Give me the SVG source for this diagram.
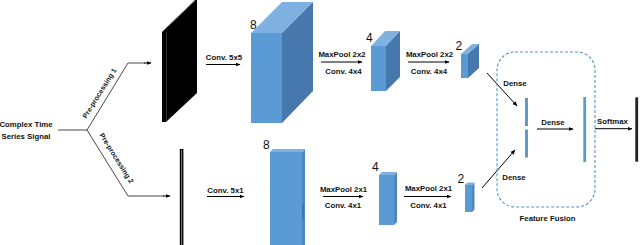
<svg xmlns="http://www.w3.org/2000/svg" width="640" height="245" viewBox="0 0 640 245">
<defs>
<marker id="ah" viewBox="0 0 10 10" refX="9" refY="5" markerWidth="5" markerHeight="5" orient="auto" markerUnits="userSpaceOnUse">
<path d="M0,1 L10,5 L0,9 z" fill="#000"/>
</marker>
<style>
.lbl{font-family:"Liberation Sans",Arial,sans-serif;font-weight:bold;font-size:7.8px;fill:#111;}
.rot{font-size:7.1px;}
.num{font-family:"Liberation Sans",Arial,sans-serif;font-size:12px;fill:#111;}
.ln{stroke:#333;stroke-width:0.9;fill:none;}
.ar{stroke:#000;stroke-width:1;fill:none;marker-end:url(#ah);}
.front{fill:#5B9BD5;}
.top{fill:#80B2E1;}
.side{fill:#4778AD;}
.side2{fill:#4E86BF;}
.bar{fill:#5B9BD5;}
</style>
</defs>
<rect width="640" height="245" fill="#fff"/>

<g id="input">
<text class="lbl" x="26" y="127" text-anchor="middle">Complex Time</text>
<text class="lbl" x="26" y="139" text-anchor="middle">Series Signal</text>
</g>

<g id="connectors">
<polyline class="ln" points="58,130 87,130 128,63 145,63"/>
<line class="ar" x1="144" y1="63" x2="151" y2="63"/>
<polyline class="ln" points="87,130 128,196 164,196"/>
<line class="ar" x1="163" y1="196" x2="170" y2="196"/>
<line class="ar" x1="206" y1="64.5" x2="240" y2="64.5"/>
<line class="ar" x1="207" y1="196.5" x2="244" y2="196.5"/>
<line class="ar" x1="321" y1="62" x2="362" y2="62"/>
<line class="ar" x1="408" y1="62" x2="449" y2="62"/>
<line class="ar" x1="323" y1="196.5" x2="363" y2="196.5"/>
<line class="ar" x1="404" y1="196.5" x2="451" y2="196.5"/>
<line class="ar" x1="487" y1="73" x2="517" y2="106"/>
<line class="ar" x1="482" y1="188" x2="515" y2="150"/>
<line class="ar" x1="537" y1="129" x2="573" y2="129"/>
<line class="ar" x1="595" y1="128.7" x2="632" y2="128.7"/>
</g>

<g id="labels">
<text class="lbl rot" transform="translate(101.5,94.5) rotate(-58)" text-anchor="middle">Pre-processing 1</text>
<text class="lbl rot" transform="translate(114.5,159.5) rotate(58)" text-anchor="middle">Pre-processing 2</text>
<text class="lbl" x="224" y="60" text-anchor="middle">Conv. 5x5</text>
<text class="lbl" x="225.5" y="193" text-anchor="middle">Conv. 5x1</text>
<text class="lbl" x="342" y="57" text-anchor="middle">MaxPool 2x2</text>
<text class="lbl" x="343.5" y="73.5" text-anchor="middle">Conv. 4x4</text>
<text class="lbl" x="429.5" y="57" text-anchor="middle">MaxPool 2x2</text>
<text class="lbl" x="429" y="74" text-anchor="middle">Conv. 4x4</text>
<text class="lbl" x="343.5" y="192" text-anchor="middle">MaxPool 2x1</text>
<text class="lbl" x="343" y="208" text-anchor="middle">Conv. 4x1</text>
<text class="lbl" x="428.5" y="191" text-anchor="middle">MaxPool 2x1</text>
<text class="lbl" x="428.5" y="208" text-anchor="middle">Conv. 4x1</text>
<text class="lbl" x="515" y="85.5" text-anchor="middle">Dense</text>
<text class="lbl" x="514" y="180" text-anchor="middle">Dense</text>
<text class="lbl" x="553" y="124.5" text-anchor="middle">Dense</text>
<text class="lbl" x="612.5" y="124" text-anchor="middle">Softmax</text>
</g>

<g id="plate1">
<polygon points="162,32 195,0 197,0 197,93 166,122 162,122" fill="#000"/>
<line x1="163" y1="31" x2="195" y2="0.5" stroke="#888" stroke-width="1"/>
<line x1="166.5" y1="32" x2="166.5" y2="121" stroke="#555" stroke-width="0.6"/>
</g>

<g id="plate2">
<rect x="179.8" y="149" width="3.6" height="96" fill="#000"/>
<line x1="181.6" y1="150" x2="181.6" y2="245" stroke="#999" stroke-width="0.8"/>
</g>

<g id="cube8a">
<polygon class="top" points="251,33 282,33 313,2 282,2"/>
<polygon class="side" points="282,33 313,2 313,91 282,123"/>
<rect class="front" x="251" y="33" width="31" height="90"/>
<text class="num" x="250" y="29">8</text>
</g>

<g id="cube4a">
<polygon class="top" points="371,46 386,46 400,31 385,31"/>
<polygon class="side" points="386,46 400,31 400,77 386,91"/>
<rect class="front" x="371" y="46" width="15" height="45"/>
<text class="num" x="366" y="42">4</text>
</g>

<g id="cube2a">
<polygon class="top" points="461,54 468,54 479,44 472,44"/>
<polygon class="side" points="468,54 479,44 479,68 468,78"/>
<rect class="front" x="461" y="54" width="7" height="24"/>
<text class="num" x="455.5" y="50">2</text>
</g>

<g id="block8b">
<polygon class="side2" points="302,152 305,149 305,245 302,245"/>
<polygon fill="#3F75AC" points="302,205 304,203 304,218 302,220"/>
<rect class="front" x="270" y="152" width="32" height="93"/>
<polygon class="top" points="270,152 302,152 305,149 273,149"/>
<text class="num" x="263" y="149">8</text>
</g>

<g id="block4b">
<polygon class="side2" points="394,175 397,172 397,222 394,225"/>
<polygon class="top" points="379,175 394,175 397,172 382,172"/>
<rect class="front" x="379" y="175" width="15" height="50"/>
<text class="num" x="372" y="171">4</text>
</g>

<g id="block2b">
<polygon class="side2" points="472,185 474.5,182.5 474.5,209.5 472,212"/>
<polygon class="top" points="465,185 472,185 474.5,182.5 467.5,182.5"/>
<rect class="front" x="465" y="185" width="7" height="27"/>
<text class="num" x="457.5" y="183">2</text>
</g>

<g id="fusion">
<rect x="497" y="52" width="98" height="155" rx="18" ry="18" fill="none" stroke="#5B8FC7" stroke-width="1.1" stroke-dasharray="3,2"/>
<text class="lbl" x="547.5" y="221" text-anchor="middle">Feature Fusion</text>
</g>

<g id="dense1">
<rect class="bar" x="525" y="98" width="3" height="28"/>
<rect class="bar" x="525" y="129.5" width="3" height="28"/>
</g>

<g id="dense2">
<rect class="bar" x="583.3" y="97" width="2.8" height="65"/>
</g>

<g id="output">
<rect x="635.3" y="97.3" width="2.8" height="64.4" fill="#222"/>
</g>
</svg>
